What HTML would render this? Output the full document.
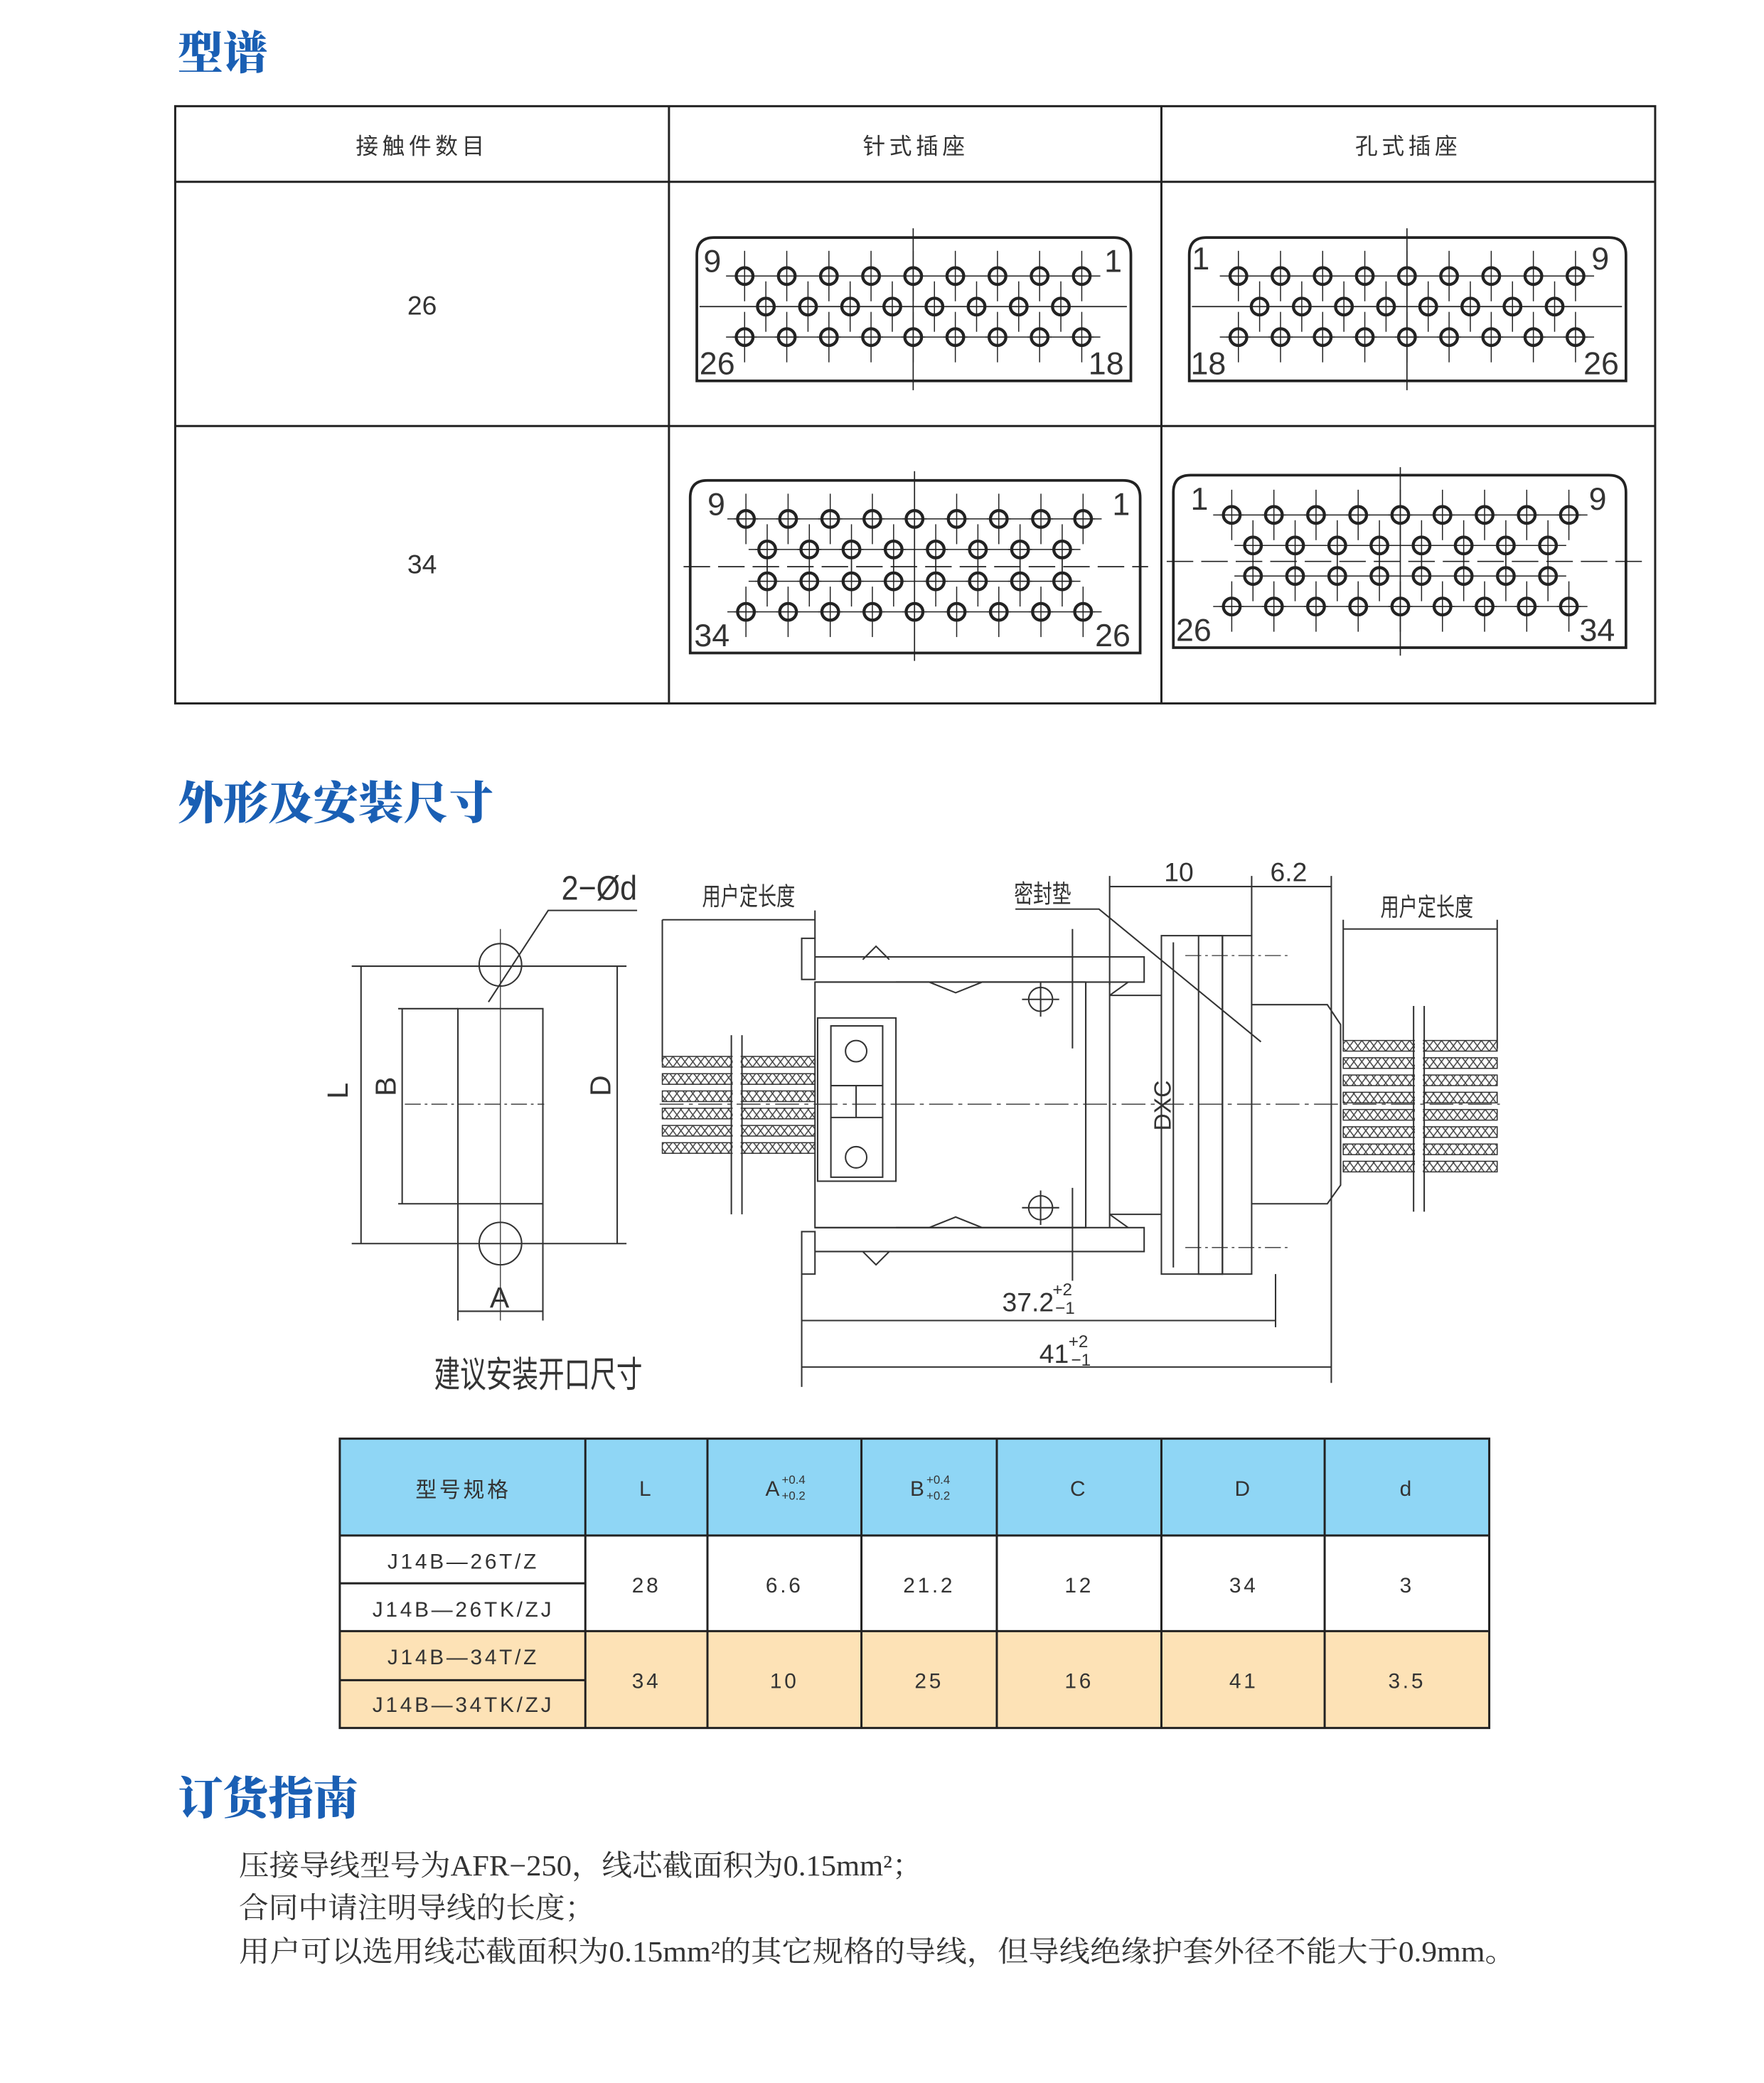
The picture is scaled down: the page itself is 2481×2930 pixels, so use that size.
<!DOCTYPE html>
<html><head><meta charset="utf-8"><style>
html,body{margin:0;padding:0;background:#fff;}
svg{display:block;}
.t{font-family:"Liberation Sans","Noto Sans CJK SC",sans-serif;fill:#333;}
.h{font-family:"Noto Serif CJK SC","Liberation Serif",serif;font-weight:900;fill:#1a5fb4;font-size:34px;}
.s{font-family:"Liberation Serif","Noto Serif CJK SC",serif;fill:#333;font-size:22px;}
</style></head><body>
<svg width="2481" height="2930" viewBox="0 0 1329 1569.5" preserveAspectRatio="none" xmlns="http://www.w3.org/2000/svg">
<defs>
<g id="p" stroke="#222" fill="none"><line x1="0" y1="-19" x2="0" y2="19" stroke-width="0.8"/><line x1="-9" y1="0" x2="9" y2="0" stroke-width="0.8"/><circle r="6.3" stroke-width="2.3"/></g>
<g id="r9"><line x1="-14" y1="0" x2="268" y2="0" stroke="#222" stroke-width="0.8"/>
<use href="#p" x="0"/><use href="#p" x="31.75"/><use href="#p" x="63.5"/><use href="#p" x="95.25"/><use href="#p" x="127"/><use href="#p" x="158.75"/><use href="#p" x="190.5"/><use href="#p" x="222.25"/><use href="#p" x="254"/></g>
<g id="r8"><line x1="-14" y1="0" x2="236" y2="0" stroke="#222" stroke-width="0.8"/>
<use href="#p" x="0"/><use href="#p" x="31.75"/><use href="#p" x="63.5"/><use href="#p" x="95.25"/><use href="#p" x="127"/><use href="#p" x="158.75"/><use href="#p" x="190.5"/><use href="#p" x="222.25"/></g>
<pattern id="hx" width="6" height="8" patternUnits="userSpaceOnUse"><path d="M0 0L6 8M6 0L0 8" stroke="#444" stroke-width="0.8"/></pattern>
</defs>

<text class="h" x="134" y="52">型谱</text>
<g stroke="#222" fill="none" stroke-width="1.6">
<rect x="132" y="80" width="1115" height="450"/>
<line x1="132" y1="137" x2="1247" y2="137"/><line x1="132" y1="321" x2="1247" y2="321"/>
<line x1="504" y1="80" x2="504" y2="530"/><line x1="875" y1="80" x2="875" y2="530"/>
</g>
<g class="t" font-size="17" text-anchor="middle" letter-spacing="3">
<text x="318" y="116">接触件数目</text><text x="690" y="116">针式插座</text><text x="1061" y="116">孔式插座</text>
</g>
<g class="t" font-size="20" text-anchor="middle"><text x="318" y="237">26</text><text x="318" y="432">34</text></g>

<g stroke="#222" fill="none" stroke-width="2">
<path d="M525 287L525 192Q525 179 538 179L839 179Q852 179 852 192L852 287Z"/>
<path d="M896 287L896 192Q896 179 909 179L1212 179Q1225 179 1225 192L1225 287Z"/>
<path d="M520 492L520 375Q520 362 533 362L846 362Q859 362 859 375L859 492Z"/>
<path d="M884 488L884 371Q884 358 897 358L1212 358Q1225 358 1225 371L1225 488Z"/>
</g>
<g stroke="#222" stroke-width="0.9">
<line x1="688" y1="172" x2="688" y2="294"/><line x1="527" y1="231" x2="849" y2="231"/>
<line x1="1060" y1="172" x2="1060" y2="294"/><line x1="898" y1="231" x2="1222" y2="231"/>
<line x1="689" y1="355" x2="689" y2="498"/><line x1="515" y1="427" x2="865" y2="427" stroke-dasharray="20,6"/>
<line x1="1055" y1="352" x2="1055" y2="494"/><line x1="879" y1="423" x2="1242" y2="423" stroke-dasharray="20,6"/>
</g>
<use href="#r9" x="561" y="208"/><use href="#r8" x="577" y="231"/><use href="#r9" x="561" y="254"/>
<use href="#r9" x="933" y="208"/><use href="#r8" x="949" y="231"/><use href="#r9" x="933" y="254"/>
<use href="#r9" x="562" y="391"/><use href="#r8" x="578" y="414"/><use href="#r8" x="578" y="438"/><use href="#r9" x="562" y="461"/>
<use href="#r9" x="928" y="388"/><use href="#r8" x="944" y="411"/><use href="#r8" x="944" y="434"/><use href="#r9" x="928" y="457"/>
<g class="t" font-size="24" fill="#222">
<text x="530" y="205">9</text><text x="832" y="205">1</text><text x="527" y="282">26</text><text x="820" y="282">18</text>
<text x="898" y="203">1</text><text x="1199" y="203">9</text><text x="897" y="282">18</text><text x="1193" y="282">26</text>
<text x="533" y="388">9</text><text x="838" y="388">1</text><text x="523" y="487">34</text><text x="825" y="487">26</text>
<text x="897" y="384">1</text><text x="1197" y="384">9</text><text x="886" y="483">26</text><text x="1190" y="483">34</text>
</g>

<text class="h" x="134" y="617">外形及安装尺寸</text>
<g stroke="#333" fill="none" stroke-width="1.1">
<circle cx="377" cy="727" r="16"/><circle cx="377" cy="937" r="16"/>
<line x1="265" y1="728" x2="472" y2="728"/><line x1="265" y1="937" x2="472" y2="937"/>
<rect x="345" y="760" width="64" height="147"/>
<line x1="300" y1="760" x2="345" y2="760"/><line x1="300" y1="907" x2="345" y2="907"/>
<line x1="303" y1="760" x2="303" y2="907"/><line x1="272" y1="728" x2="272" y2="937"/><line x1="465" y1="728" x2="465" y2="937"/>
<line x1="377" y1="700" x2="377" y2="995" stroke-width="0.7"/>
<line x1="305" y1="832" x2="410" y2="832" stroke-dasharray="12,3,2,3" stroke-width="0.7"/>
<line x1="345" y1="907" x2="345" y2="995"/><line x1="409" y1="907" x2="409" y2="995"/>
<line x1="345" y1="988" x2="409" y2="988"/>
<polyline points="368,755 413,686 480,686"/>
</g>
<g class="t" fill="#444">
<text x="423" y="678" font-size="26" textLength="57" lengthAdjust="spacingAndGlyphs">2−Ød</text>
<text x="369" y="985" font-size="22">A</text>
<text transform="translate(262,828) rotate(-90)" font-size="22">L</text>
<text transform="translate(298,826) rotate(-90)" font-size="22">B</text>
<text transform="translate(460,826) rotate(-90)" font-size="22">D</text>
<text x="327" y="1045" font-size="27" textLength="157" lengthAdjust="spacingAndGlyphs">建议安装开口尺寸</text>
<text x="529" y="682" font-size="19" textLength="70" lengthAdjust="spacingAndGlyphs">用户定长度</text>
<text x="1040" y="690" font-size="19" textLength="70" lengthAdjust="spacingAndGlyphs">用户定长度</text>
<text x="764" y="680" font-size="19" textLength="43" lengthAdjust="spacingAndGlyphs">密封垫</text>
<text x="877" y="664" font-size="20">10</text>
<text x="957" y="664" font-size="20">6.2</text>
<text transform="translate(882,852) rotate(-90)" font-size="18">DXC</text>
<text x="755" y="988" font-size="20">37.2</text><text x="793" y="976" font-size="13">+2</text><text x="795" y="990" font-size="13">−1</text>
<text x="783" y="1027" font-size="20">41</text><text x="805" y="1015" font-size="13">+2</text><text x="807" y="1029" font-size="13">−1</text>
</g>
<g stroke="#333" stroke-width="0.8" fill="url(#hx)">
<rect x="499" y="796" width="115" height="8"/><rect x="499" y="809" width="115" height="8"/><rect x="499" y="822" width="115" height="8"/><rect x="499" y="835" width="115" height="8"/><rect x="499" y="848" width="115" height="8"/><rect x="499" y="861" width="115" height="8"/>
<rect x="1012" y="784" width="116" height="8"/><rect x="1012" y="797" width="116" height="8"/><rect x="1012" y="810" width="116" height="8"/><rect x="1012" y="823" width="116" height="8"/><rect x="1012" y="836" width="116" height="8"/><rect x="1012" y="849" width="116" height="8"/><rect x="1012" y="862" width="116" height="8"/><rect x="1012" y="875" width="116" height="8"/>
</g>
<rect x="552" y="790" width="6" height="85" fill="#fff"/><rect x="1066" y="778" width="6" height="110" fill="#fff"/>
<g stroke="#333" fill="none" stroke-width="1.1">
<line x1="551" y1="780" x2="551" y2="915"/><line x1="559" y1="780" x2="559" y2="915"/>
<line x1="1065" y1="758" x2="1065" y2="913"/><line x1="1073" y1="758" x2="1073" y2="913"/>
<line x1="499" y1="693" x2="614" y2="693"/><line x1="499" y1="693" x2="499" y2="800"/><line x1="614" y1="686" x2="614" y2="707"/>
<line x1="1012" y1="700" x2="1128" y2="700"/><line x1="1128" y1="693" x2="1128" y2="790"/><line x1="1012" y1="693" x2="1012" y2="784"/>
<rect x="604" y="707" width="10" height="31" fill="#fff"/><rect x="604" y="928" width="10" height="32" fill="#fff"/>
<path d="M614 721L862 721L862 740L614 740"/>
<path d="M614 925L862 925L862 943L614 943"/>
<path d="M650 723 L660 713 L670 723"/><path d="M650 943 L660 953 L670 943"/>
<path d="M675 740L700 740L720 748L740 740L818 740"/><path d="M675 925L700 925L720 917L740 925L818 925"/>
<rect x="614" y="740" width="204" height="185"/>
<rect x="616" y="767" width="59" height="123"/><rect x="626" y="773" width="39" height="114"/>
<line x1="626" y1="818" x2="665" y2="818"/><line x1="626" y1="842" x2="665" y2="842"/><line x1="645" y1="818" x2="645" y2="842"/>
<circle cx="645" cy="792" r="8"/><circle cx="645" cy="872" r="8"/>
<circle cx="784" cy="753" r="9"/><circle cx="784" cy="910" r="9"/>
<line x1="770" y1="753" x2="798" y2="753"/><line x1="784" y1="740" x2="784" y2="766"/>
<line x1="770" y1="910" x2="798" y2="910"/><line x1="784" y1="897" x2="784" y2="923"/>
<path d="M818 740L818 925"/><path d="M836 740L836 925"/>
<path d="M836 750L875 750L875 915L836 915"/><path d="M836 750L850 740M836 915L850 925"/>
<rect x="875" y="705" width="46" height="255"/><rect x="903" y="705" width="18" height="255"/><rect x="921" y="705" width="22" height="255"/>
<path d="M943 757L1000 757L1010 772L1010 893L1000 907L943 907"/>
<line x1="884" y1="710" x2="884" y2="955"/>
<line x1="836" y1="668" x2="943" y2="668"/><line x1="943" y1="668" x2="1003" y2="668"/>
<line x1="836" y1="660" x2="836" y2="742"/><line x1="943" y1="660" x2="943" y2="705"/><line x1="1003" y1="660" x2="1003" y2="1042"/>
<polyline points="765,685 828,685 950,785"/>
<line x1="604" y1="960" x2="604" y2="1045"/><line x1="961" y1="960" x2="961" y2="1000"/>
<line x1="604" y1="995" x2="961" y2="995"/><line x1="604" y1="1030" x2="1003" y2="1030"/>
<line x1="808" y1="895" x2="808" y2="965"/><line x1="808" y1="700" x2="808" y2="790"/>
<line x1="893" y1="720" x2="970" y2="720" stroke-dasharray="12,3,2,3" stroke-width="0.7"/><line x1="893" y1="940" x2="970" y2="940" stroke-dasharray="12,3,2,3" stroke-width="0.7"/>
<line x1="497" y1="832" x2="1130" y2="832" stroke-dasharray="18,4,3,4" stroke-width="0.7"/>
</g>

<rect x="256" y="1084" width="866" height="73" fill="#8fd6f5"/>
<rect x="256" y="1229" width="866" height="73" fill="#fde2b6"/>
<g stroke="#222" stroke-width="1.6" fill="none">
<rect x="256" y="1084" width="866" height="218"/>
<line x1="256" y1="1157" x2="1122" y2="1157"/><line x1="256" y1="1229" x2="1122" y2="1229"/>
<line x1="256" y1="1193" x2="441" y2="1193"/><line x1="256" y1="1266" x2="441" y2="1266"/>
<line x1="441" y1="1084" x2="441" y2="1302"/><line x1="533" y1="1084" x2="533" y2="1302"/><line x1="649" y1="1084" x2="649" y2="1302"/><line x1="751" y1="1084" x2="751" y2="1302"/><line x1="875" y1="1084" x2="875" y2="1302"/><line x1="998" y1="1084" x2="998" y2="1302"/>
</g>
<g class="t" font-size="16" text-anchor="middle" letter-spacing="2">
<text x="349" y="1128">型号规格</text><text x="487" y="1127">L</text><text x="583" y="1127">A</text><text x="692" y="1127">B</text><text x="813" y="1127">C</text><text x="937" y="1127">D</text><text x="1060" y="1127">d</text>
<text x="349" y="1182">J14B—26T/Z</text><text x="349" y="1218">J14B—26TK/ZJ</text><text x="349" y="1254">J14B—34T/Z</text><text x="349" y="1290">J14B—34TK/ZJ</text>
<text x="487" y="1200">28</text><text x="591" y="1200">6.6</text><text x="700" y="1200">21.2</text><text x="813" y="1200">12</text><text x="937" y="1200">34</text><text x="1060" y="1200">3</text>
<text x="487" y="1272">34</text><text x="591" y="1272">10</text><text x="700" y="1272">25</text><text x="813" y="1272">16</text><text x="937" y="1272">41</text><text x="1060" y="1272">3.5</text>
</g>
<g class="t" font-size="9"><text x="589" y="1118">+0.4</text><text x="589" y="1130">+0.2</text><text x="698" y="1118">+0.4</text><text x="698" y="1130">+0.2</text></g>

<text class="h" x="134" y="1367">订货指南</text>
<text class="s" x="180" y="1413" textLength="515" lengthAdjust="spacingAndGlyphs">压接导线型号为AFR−250，线芯截面积为0.15mm²；</text>
<text class="s" x="180" y="1445" textLength="268" lengthAdjust="spacingAndGlyphs">合同中请注明导线的长度；</text>
<text class="s" x="180" y="1478" textLength="962" lengthAdjust="spacingAndGlyphs">用户可以选用线芯截面积为0.15mm²的其它规格的导线，但导线绝缘护套外径不能大于0.9mm。</text>
</svg>
</body></html>
